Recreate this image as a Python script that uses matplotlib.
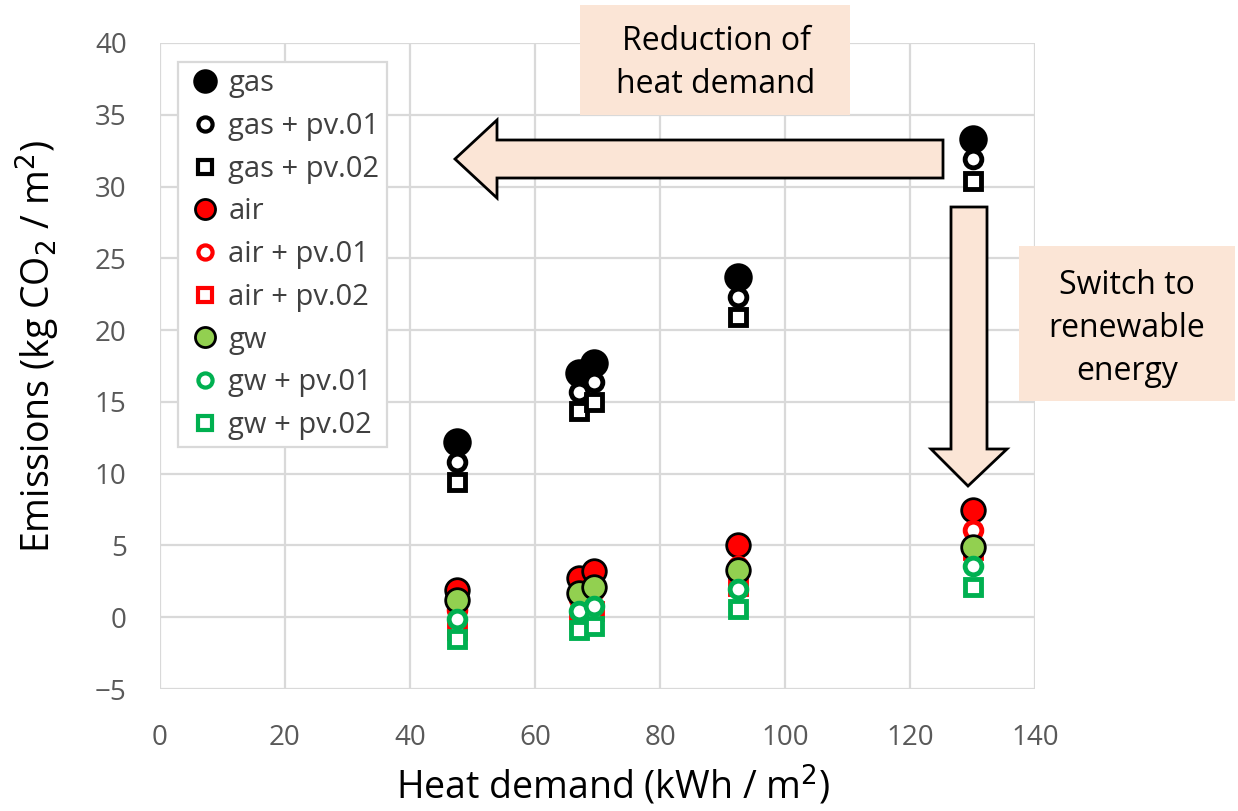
import matplotlib
matplotlib.use("Agg")
import matplotlib.pyplot as plt
from matplotlib.lines import Line2D
from matplotlib.patches import Polygon, Rectangle

# Heat demand per building (kWh / m2)
heat_demand = [47.5, 67.0, 69.5, 92.5, 130.0]

# Emissions (kg CO2 / m2)
gas = [12.2, 17.0, 17.7, 23.7, 33.3]
gas_pv01 = [10.8, 15.7, 16.4, 22.3, 31.9]
gas_pv02 = [9.4, 14.4, 15.0, 20.9, 30.4]
air = [1.9, 2.7, 3.2, 5.0, 7.5]
air_pv01 = [0.5, 1.3, 1.8, 3.6, 6.1]
air_pv02 = [-0.9, -0.1, 0.4, 2.2, 4.7]
gw = [1.2, 1.7, 2.1, 3.3, 4.9]
gw_pv01 = [-0.1, 0.4, 0.8, 2.0, 3.6]
gw_pv02 = [-1.5, -0.9, -0.6, 0.6, 2.1]

labels = ["gas", "gas + pv.01", "gas + pv.02",
          "air", "air + pv.01", "air + pv.02",
          "gw", "gw + pv.01", "gw + pv.02"]

x_ticks = [0, 20, 40, 60, 80, 100, 120, 140]
y_ticks = [-5, 0, 5, 10, 15, 20, 25, 30, 35, 40]

#################

plt.rcParams["font.family"] = ["Open Sans", "DejaVu Sans"]

W, H = 1238, 811
BLACK = "#000000"
RED = "#ff0000"
GREEN = "#00b050"
LIGHT_GREEN = "#92d050"
PEACH = "#fbe5d6"
GRID = "#d9d9d9"
TICK = "#595959"


def px(x, y):
    # pixel position (from top left) -> figure fraction
    return x / W, 1 - y / H


# (values, marker, size, face, edge, edge width)
styles = [
    (gas,      "o", 19, BLACK, BLACK, 1.5),
    (gas_pv01, "o", 12, "white", BLACK, 3.5),
    (gas_pv02, "s", 12, "white", BLACK, 3.5),
    (air,      "o", 17, RED, BLACK, 2.0),
    (air_pv01, "o", 12, "white", RED, 3.5),
    (air_pv02, "s", 12, "white", RED, 3.5),
    (gw,       "o", 17, LIGHT_GREEN, BLACK, 2.0),
    (gw_pv01,  "o", 12, "white", GREEN, 3.5),
    (gw_pv02,  "s", 12, "white", GREEN, 3.5),
]

fig = plt.figure(figsize=(W / 100, H / 100), dpi=100)
ax = fig.add_axes([160 / W, 1 - 689 / H, (1035 - 160) / W, (689 - 43) / H])

handles = []
for (vals, m, ms, fc, ec, ew), lab in zip(styles, labels):
    ax.plot(heat_demand, vals, linestyle="none", marker=m, markersize=ms,
            markerfacecolor=fc, markeredgecolor=ec, markeredgewidth=ew,
            zorder=3)
    handles.append(Line2D([], [], linestyle="none", marker=m,
                          markersize=ms * 0.85, markerfacecolor=fc,
                          markeredgecolor=ec, markeredgewidth=min(ew, 3.0)))

ax.set_xlim(0, 140)
ax.set_ylim(-5, 40)
ax.set_xticks(x_ticks)
ax.set_yticks(y_ticks)
ax.grid(True, color=GRID, linewidth=1.6)
ax.set_axisbelow(True)
for s in ax.spines.values():
    s.set_visible(False)
ax.tick_params(length=0, labelsize=20, colors=TICK)
ax.tick_params(axis="x", pad=25)
ax.tick_params(axis="y", pad=24)

ax.set_xlabel("Heat demand (kWh / m$^2$)", fontsize=27)
ax.xaxis.set_label_coords((613 - 160) / 875, (689 - 764) / 646)
ax.set_ylabel("Emissions (kg CO$_2$ / m$^2$)", fontsize=27)
ax.yaxis.set_label_coords((62 - 160) / 875, (689 - 347) / 646)

leg = ax.legend(handles, labels, loc="upper left",
                bbox_to_anchor=px(178, 62), bbox_transform=fig.transFigure,
                fontsize=21, labelspacing=0.47, handlelength=1.35,
                handletextpad=0.12, borderpad=0.25, borderaxespad=0,
                fancybox=False, framealpha=1)
leg.get_frame().set_edgecolor(GRID)
leg.get_frame().set_linewidth(1.6)
for t in leg.get_texts():
    t.set_color("#404040")

# annotation boxes
tf = fig.transFigure
x0, y0 = px(580, 115)
x1, y1 = px(850, 5)
fig.patches.append(Rectangle((x0, y0), x1 - x0, y1 - y0, transform=tf,
                             facecolor=PEACH, edgecolor="none", zorder=5))
fig.text(*px(716, 63), "Reduction of\nheat demand", ha="center", va="center",
         fontsize=23, linespacing=1.4, zorder=6)

x0, y0 = px(1019, 401)
x1, y1 = px(1235, 246)
fig.patches.append(Rectangle((x0, y0), x1 - x0, y1 - y0, transform=tf,
                             facecolor=PEACH, edgecolor="none", zorder=5))
fig.text(*px(1127, 328), "Switch to\nrenewable\nenergy", ha="center",
         va="center", fontsize=23, linespacing=1.4, zorder=6)

# arrows
left_arrow = [(943, 140), (497, 140), (497, 120), (455, 159), (497, 198),
              (497, 178), (943, 178)]
fig.patches.append(Polygon([px(*p) for p in left_arrow], closed=True,
                           transform=tf, facecolor=PEACH, edgecolor=BLACK,
                           linewidth=2, zorder=5))
down_arrow = [(951, 207), (987, 207), (987, 449), (1007, 449), (968, 486),
              (931, 449), (951, 449)]
fig.patches.append(Polygon([px(*p) for p in down_arrow], closed=True,
                           transform=tf, facecolor=PEACH, edgecolor=BLACK,
                           linewidth=2, zorder=5))

plt.savefig("out.png", dpi=100)
